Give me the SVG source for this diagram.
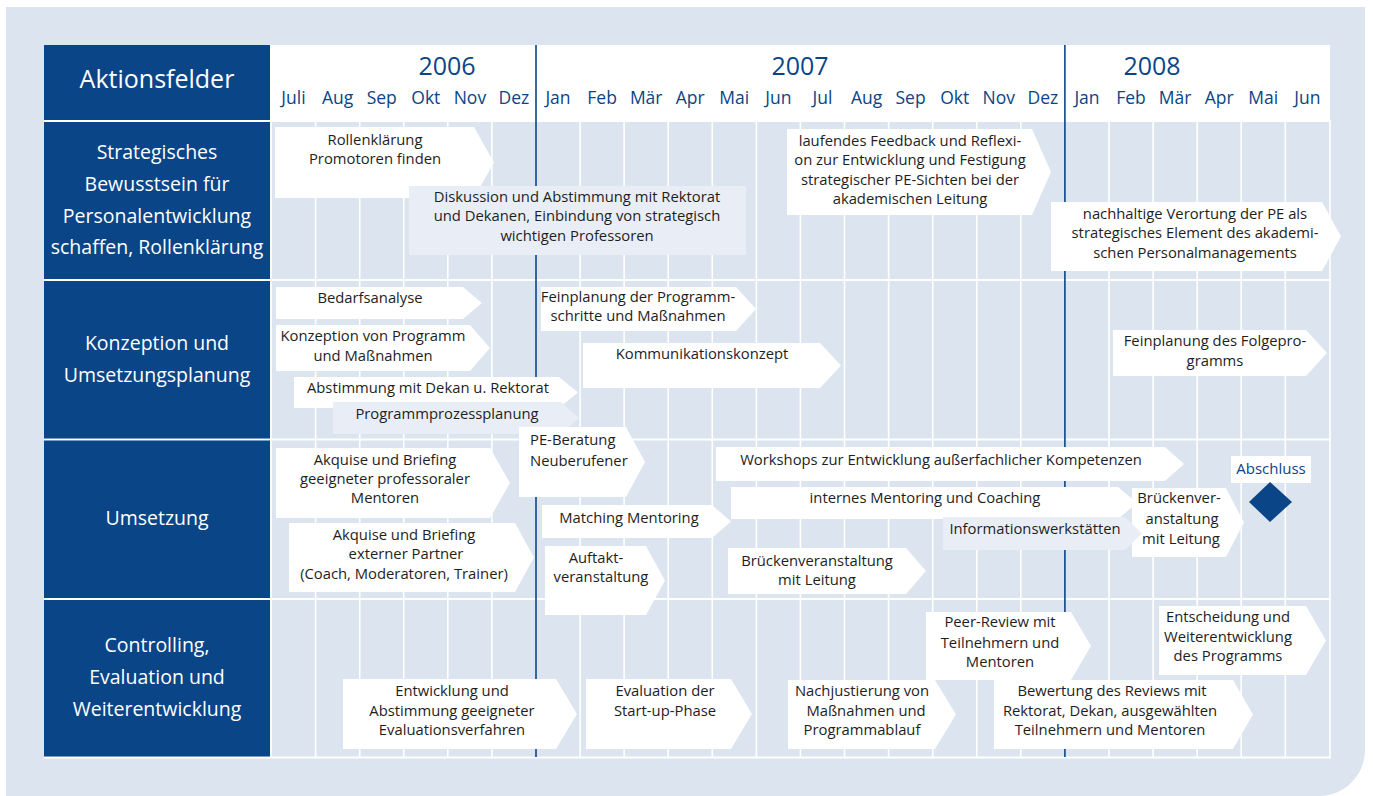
<svg xmlns="http://www.w3.org/2000/svg" width="1373" height="796" viewBox="0 0 1373 796">
<style>
.bg{fill:#dbe4ef}
.db{fill:#0a4587}
.bx{fill:#ffffff}
.pl{fill:#e9eef6}
.t{font-family:"Open Sans","Liberation Sans",sans-serif;font-size:14.8px;fill:#1e1e1e;text-anchor:middle}
.ts{font-family:"Open Sans","Liberation Sans",sans-serif;font-size:14.8px;fill:#1e1e1e;text-anchor:start}
.lb{font-family:"Open Sans","Liberation Sans",sans-serif;font-size:19.5px;fill:#ffffff;text-anchor:middle}
.mo{font-family:"Open Sans","Liberation Sans",sans-serif;font-size:17.5px;fill:#0a4587;text-anchor:middle}
.yr{font-family:"Open Sans","Liberation Sans",sans-serif;font-size:25px;fill:#0a4587;text-anchor:middle}
.gw{stroke:#ffffff;stroke-width:1.6}
.gh{stroke:#ffffff;stroke-width:2.2}
.yl{stroke:#0a4587;stroke-width:1.6}
</style>
<rect x="0" y="0" width="1373" height="796" fill="#ffffff"/>
<path class="bg" d="M6 7 H1365 V750 A46 46 0 0 1 1319 796 H6 Z"/>
<g id="header">
<rect class="db" x="44" y="45" width="226" height="75"/>
<text class="lb" x="157" y="88" style="font-size:25px">Aktionsfelder</text>
<rect class="bx" x="270" y="45" width="1060" height="75"/>
<text class="yr" x="447" y="75">2006</text>
<text class="yr" x="800" y="75">2007</text>
<text class="yr" x="1152" y="75">2008</text>
<g>
<text class="mo" x="293.5" y="104">Juli</text>
<text class="mo" x="337.6" y="104">Aug</text>
<text class="mo" x="381.7" y="104">Sep</text>
<text class="mo" x="425.8" y="104">Okt</text>
<text class="mo" x="469.9" y="104">Nov</text>
<text class="mo" x="513.9" y="104">Dez</text>
<text class="mo" x="558.0" y="104">Jan</text>
<text class="mo" x="602.1" y="104">Feb</text>
<text class="mo" x="646.2" y="104">Mär</text>
<text class="mo" x="690.2" y="104">Apr</text>
<text class="mo" x="734.3" y="104">Mai</text>
<text class="mo" x="778.4" y="104">Jun</text>
<text class="mo" x="822.5" y="104">Jul</text>
<text class="mo" x="866.6" y="104">Aug</text>
<text class="mo" x="910.6" y="104">Sep</text>
<text class="mo" x="954.7" y="104">Okt</text>
<text class="mo" x="998.8" y="104">Nov</text>
<text class="mo" x="1042.9" y="104">Dez</text>
<text class="mo" x="1087.0" y="104">Jan</text>
<text class="mo" x="1131.0" y="104">Feb</text>
<text class="mo" x="1175.1" y="104">Mär</text>
<text class="mo" x="1219.2" y="104">Apr</text>
<text class="mo" x="1263.3" y="104">Mai</text>
<text class="mo" x="1307.3" y="104">Jun</text>
</g>
</g>
<g id="grid">
<line class="gh" x1="44" y1="121" x2="1331" y2="121"/>
<line class="gh" x1="44" y1="280" x2="1331" y2="280"/>
<line class="gh" x1="44" y1="439.5" x2="1331" y2="439.5"/>
<line class="gh" x1="44" y1="599" x2="1331" y2="599"/>
<line class="gh" x1="44" y1="757.5" x2="1331" y2="757.5"/>
<line class="gw" x1="271" y1="121" x2="271" y2="758"/>
<line class="gw" x1="1330" y1="121" x2="1330" y2="758"/>
<line class="gw" x1="315.6" y1="121" x2="315.6" y2="758"/>
<line class="gw" x1="359.7" y1="121" x2="359.7" y2="758"/>
<line class="gw" x1="403.7" y1="121" x2="403.7" y2="758"/>
<line class="gw" x1="447.8" y1="121" x2="447.8" y2="758"/>
<line class="gw" x1="491.9" y1="121" x2="491.9" y2="758"/>
<line class="gw" x1="580.1" y1="121" x2="580.1" y2="758"/>
<line class="gw" x1="624.1" y1="121" x2="624.1" y2="758"/>
<line class="gw" x1="668.2" y1="121" x2="668.2" y2="758"/>
<line class="gw" x1="712.3" y1="121" x2="712.3" y2="758"/>
<line class="gw" x1="756.4" y1="121" x2="756.4" y2="758"/>
<line class="gw" x1="800.4" y1="121" x2="800.4" y2="758"/>
<line class="gw" x1="844.5" y1="121" x2="844.5" y2="758"/>
<line class="gw" x1="888.6" y1="121" x2="888.6" y2="758"/>
<line class="gw" x1="932.7" y1="121" x2="932.7" y2="758"/>
<line class="gw" x1="976.8" y1="121" x2="976.8" y2="758"/>
<line class="gw" x1="1020.8" y1="121" x2="1020.8" y2="758"/>
<line class="gw" x1="1109.0" y1="121" x2="1109.0" y2="758"/>
<line class="gw" x1="1153.1" y1="121" x2="1153.1" y2="758"/>
<line class="gw" x1="1197.2" y1="121" x2="1197.2" y2="758"/>
<line class="gw" x1="1241.2" y1="121" x2="1241.2" y2="758"/>
<line class="gw" x1="1285.3" y1="121" x2="1285.3" y2="758"/>
<line class="yl" x1="536" y1="45" x2="536" y2="757"/>
<line class="yl" x1="1064.9" y1="45" x2="1064.9" y2="757"/>
</g>
<g id="row-labels">
<g id="lbl-strategisch">
<rect class="db" x="44" y="122" width="226" height="157"/>
<text class="lb" x="157" y="159">Strategisches</text>
<text class="lb" x="157" y="191">Bewusstsein für</text>
<text class="lb" x="157" y="223">Personalentwicklung</text>
<text class="lb" x="157" y="254">schaffen, Rollenklärung</text>
</g>
<g id="lbl-konzeption">
<rect class="db" x="44" y="281" width="226" height="157.5"/>
<text class="lb" x="157" y="350">Konzeption und</text>
<text class="lb" x="157" y="382">Umsetzungsplanung</text>
</g>
<g id="lbl-umsetzung">
<rect class="db" x="44" y="440.5" width="226" height="157.5"/>
<text class="lb" x="157" y="525">Umsetzung</text>
</g>
<g id="lbl-controlling">
<rect class="db" x="44" y="600" width="226" height="156.5"/>
<text class="lb" x="157" y="652">Controlling,</text>
<text class="lb" x="157" y="684">Evaluation und</text>
<text class="lb" x="157" y="716">Weiterentwicklung</text>
</g>
</g>
<g id="row1">
<g id="n-rollen">
<path class="bx" d="M275 127 H474 L494 162.5 L474 198 H275 Z"/>
<text class="t" x="375" y="145">Rollenklärung</text>
<text class="t" x="375" y="164">Promotoren finden</text>
</g>
<g id="n-diskussion">
<rect class="pl" x="409" y="186" width="337" height="69"/>
<text class="t" x="577" y="202">Diskussion und Abstimmung mit Rektorat</text>
<text class="t" x="577" y="221">und Dekanen, Einbindung von strategisch</text>
<text class="t" x="577" y="241">wichtigen Professoren</text>
</g>
<g id="n-feedback">
<path class="bx" d="M787 129 H1032 L1051 172 L1032 215 H787 Z"/>
<text class="t" x="910" y="146">laufendes Feedback und Reflexi-</text>
<text class="t" x="910" y="165">on zur Entwicklung und Festigung</text>
<text class="t" x="910" y="185">strategischer PE-Sichten bei der</text>
<text class="t" x="910" y="204">akademischen Leitung</text>
</g>
<g id="n-nachhaltig">
<path class="bx" d="M1051 202 H1322 L1341 236.5 L1322 271 H1051 Z"/>
<text class="t" x="1195" y="219">nachhaltige Verortung der PE als</text>
<text class="t" x="1195" y="238">strategisches Element des akademi-</text>
<text class="t" x="1195" y="258">schen Personalmanagements</text>
</g>
</g>
<g id="row2">
<g id="n-bedarf">
<path class="bx" d="M276 287 H463 L482 303 L463 319 H276 Z"/>
<text class="t" x="370" y="303">Bedarfsanalyse</text>
</g>
<g id="n-konzeption">
<path class="bx" d="M276 325 H470 L490 348 L470 371 H276 Z"/>
<text class="t" x="373" y="341">Konzeption von Programm</text>
<text class="t" x="373" y="361">und Maßnahmen</text>
</g>
<g id="n-abstimmung">
<path class="bx" d="M294 377 H559 L578 392.5 L559 408 H294 Z"/>
<text class="t" x="428" y="393">Abstimmung mit Dekan u. Rektorat</text>
</g>
<g id="n-programmprozess">
<path class="pl" d="M333 402 H561 L579 418 L561 434 H333 Z"/>
<text class="t" x="447" y="419">Programmprozessplanung</text>
</g>
<g id="n-feinplanung">
<path class="bx" d="M541 287 H736 L756 309 L736 331 H541 Z"/>
<text class="t" x="638" y="302">Feinplanung der Programm-</text>
<text class="t" x="638" y="321">schritte und Maßnahmen</text>
</g>
<g id="n-kommunikation">
<path class="bx" d="M583 343 H820 L841 365.5 L820 388 H583 Z"/>
<text class="t" x="702" y="359">Kommunikationskonzept</text>
</g>
<g id="n-folgeprogramm">
<path class="bx" d="M1113 330 H1306 L1327 353 L1306 376 H1113 Z"/>
<text class="t" x="1215" y="346">Feinplanung des Folgepro-</text>
<text class="t" x="1215" y="366">gramms</text>
</g>
</g>
<g id="row3">
<g id="n-akquise1">
<path class="bx" d="M276 448 H490 L510 483 L490 518 H276 Z"/>
<text class="t" x="385" y="465">Akquise und Briefing</text>
<text class="t" x="385" y="484">geeigneter professoraler</text>
<text class="t" x="385" y="503">Mentoren</text>
</g>
<g id="n-akquise2">
<path class="bx" d="M289 523 H515 L534 557.5 L515 592 H289 Z"/>
<text class="t" x="404" y="540">Akquise und Briefing</text>
<text class="t" x="406" y="559">externer Partner</text>
<text class="t" x="404" y="579">(Coach, Moderatoren, Trainer)</text>
</g>
<g id="n-peberatung">
<path class="bx" d="M519 427 H626 L645 462 L626 497 H519 Z"/>
<text class="ts" x="530" y="445">PE-Beratung</text>
<text class="ts" x="530" y="466">Neuberufener</text>
</g>
<g id="n-matching">
<path class="bx" d="M542 505 H712 L731 521.5 L712 538 H542 Z"/>
<text class="t" x="629" y="523">Matching Mentoring</text>
</g>
<g id="n-auftakt">
<path class="bx" d="M545 546 H646 L665 580.5 L646 615 H545 Z"/>
<text class="t" x="596" y="563">Auftakt-</text>
<text class="t" x="601" y="582">veranstaltung</text>
</g>
<g id="n-workshops">
<path class="bx" d="M716 447 H1165 L1184 464 L1165 481 H716 Z"/>
<text class="t" x="941" y="465">Workshops zur Entwicklung außerfachlicher Kompetenzen</text>
</g>
<g id="n-internes">
<path class="bx" d="M731 487 H1118 L1137 503 L1118 519 H731 Z"/>
<text class="t" x="925" y="503">internes Mentoring und Coaching</text>
</g>
<g id="n-bruecke1">
<path class="bx" d="M728 548 H906 L926 571 L906 594 H728 Z"/>
<text class="t" x="817" y="566">Brückenveranstaltung</text>
<text class="t" x="817" y="585">mit Leitung</text>
</g>
<g id="n-bruecke2">
<path class="bx" d="M1132 488 H1226 L1244 522.5 L1226 557 H1132 Z"/>
</g>
<g id="n-infowerk">
<path class="pl" d="M943 517 H1125 L1142 533.5 L1125 550 H943 Z"/>
<text class="t" x="1035" y="534">Informationswerkstätten</text>
</g>
<g id="n-bruecke2-text">
<text class="t" x="1179" y="503">Brückenver-</text>
<text class="t" x="1182" y="524">anstaltung</text>
<text class="t" x="1181" y="544">mit Leitung</text>
</g>
<g id="n-abschluss">
<rect class="bx" x="1231" y="456" width="80" height="27"/>
<text class="t" x="1271" y="474" style="fill:#0a4587;font-size:15px">Abschluss</text>
<path class="db" d="M1270 482 L1292 502 L1270 522 L1249 502 Z"/>
</g>
</g>
<g id="row4">
<g id="n-entwicklung">
<path class="bx" d="M343 679 H556 L577 714 L556 749 H343 Z"/>
<text class="t" x="452" y="696">Entwicklung und</text>
<text class="t" x="452" y="716">Abstimmung geeigneter</text>
<text class="t" x="452" y="735">Evaluationsverfahren</text>
</g>
<g id="n-evaluation">
<path class="bx" d="M586 679 H731 L752 714 L731 749 H586 Z"/>
<text class="t" x="665" y="696">Evaluation der</text>
<text class="t" x="665" y="716">Start-up-Phase</text>
</g>
<g id="n-peerreview">
<path class="bx" d="M926 612 H1071 L1091 646 L1071 680 H926 Z"/>
<text class="t" x="1000" y="627">Peer-Review mit</text>
<text class="t" x="1000" y="648">Teilnehmern und</text>
<text class="t" x="1000" y="667">Mentoren</text>
</g>
<g id="n-nachjustierung">
<path class="bx" d="M788 680 H935 L956 714.5 L935 749 H788 Z"/>
<text class="t" x="862" y="696">Nachjustierung von</text>
<text class="t" x="866" y="716">Maßnahmen und</text>
<text class="t" x="862" y="735">Programmablauf</text>
</g>
<g id="n-bewertung">
<path class="bx" d="M994 680 H1233 L1253 714.5 L1233 749 H994 Z"/>
<text class="t" x="1112" y="696">Bewertung des Reviews mit</text>
<text class="t" x="1110" y="716">Rektorat, Dekan, ausgewählten</text>
<text class="t" x="1110" y="735">Teilnehmern und Mentoren</text>
</g>
<g id="n-entscheidung">
<path class="bx" d="M1159 606 H1306 L1326 640.5 L1306 675 H1159 Z"/>
<text class="t" x="1228" y="622">Entscheidung und</text>
<text class="t" x="1228" y="642">Weiterentwicklung</text>
<text class="t" x="1228" y="661">des Programms</text>
</g>
</g>
<g id="connectors"></g>
</svg>
